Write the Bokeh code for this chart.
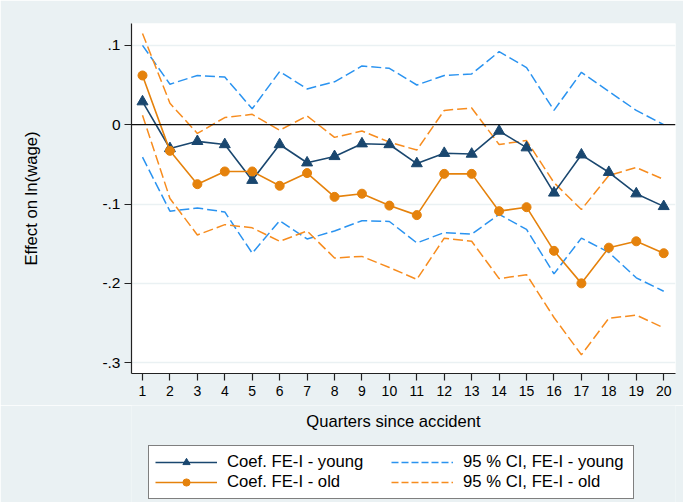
import numpy as np
from bokeh.plotting import figure
from bokeh.layouts import column
from bokeh.models import (Range1d, FixedTicker, Span, Legend, LegendItem, Label)
from bokeh.embed import file_html
from bokeh.resources import INLINE

quarters = list(range(1, 21))
coef_young = [0.029, -0.030, -0.021, -0.025, -0.070, -0.025, -0.048, -0.040, -0.024, -0.025,
              -0.049, -0.036, -0.037, -0.008, -0.029, -0.086, -0.038, -0.060, -0.087, -0.103]
coef_old = [0.062, -0.033, -0.075, -0.059, -0.059, -0.077, -0.061, -0.091, -0.087, -0.102,
            -0.114, -0.062, -0.062, -0.109, -0.104, -0.159, -0.200, -0.155, -0.147, -0.162]
ci_young_hi = [0.100, 0.051, 0.062, 0.060, 0.020, 0.067, 0.045, 0.054, 0.074, 0.071,
               0.050, 0.062, 0.064, 0.092, 0.072, 0.018, 0.066, 0.042, 0.018, 0.000]
ci_young_lo = [-0.041, -0.109, -0.105, -0.110, -0.162, -0.121, -0.144, -0.134, -0.121, -0.122,
               -0.149, -0.136, -0.138, -0.113, -0.132, -0.188, -0.143, -0.161, -0.193, -0.210]
ci_old_hi = [0.115, 0.027, -0.011, 0.009, 0.013, -0.007, 0.011, -0.016, -0.008, -0.022,
             -0.032, 0.018, 0.021, -0.025, -0.020, -0.073, -0.107, -0.064, -0.054, -0.069]
ci_old_lo = [0.012, -0.093, -0.139, -0.126, -0.130, -0.147, -0.134, -0.168, -0.166, -0.180,
             -0.195, -0.143, -0.147, -0.194, -0.189, -0.243, -0.290, -0.244, -0.240, -0.256]
y_ticks = [-0.3, -0.2, -0.1, 0.0, 0.1]
y_tick_labels = ["-.3", "-.2", "-.1", "0", ".1"]
legend_labels = ["Coef. FE-I - young", "Coef. FE-I - old",
                 "95 % CI, FE-I - young", "95 % CI, FE-I - old"]
x_title = "Quarters since accident"
y_title = "Effect on ln(wage)"

FONT = "Liberation Sans"
BG = "#eaf1f3"
NAVY = "#1a476f"
ORANGE = "#e5820c"
BLUE_CI = "#2a93f0"
ORANGE_CI = "#f78c1e"
DASH = "10 4"

p = figure(width=683, height=405, output_backend="svg", toolbar_location=None,
           x_range=Range1d(0.599, 20.43), y_range=Range1d(-0.3136, 0.1275),
           min_border_left=131, min_border_top=23, min_border_right=8, min_border_bottom=32)
p.border_fill_color = BG
p.background_fill_color = "white"
p.outline_line_color = None

p.xgrid.visible = False
p.ygrid.ticker = FixedTicker(ticks=[-0.3, -0.2, -0.1, 0.1])
p.ygrid.grid_line_color = BG
p.ygrid.grid_line_width = 1.5

p.xaxis.ticker = FixedTicker(ticks=quarters)
p.yaxis.ticker = FixedTicker(ticks=y_ticks)
p.yaxis.major_label_overrides = {t: l for t, l in zip(y_ticks, y_tick_labels)}
p.yaxis.major_label_orientation = "horizontal"
for ax in (p.xaxis, p.yaxis):
    ax.axis_line_color = "#222222"
    ax.axis_line_width = 1.2
    ax.major_tick_line_color = "#222222"
    ax.major_tick_line_width = 1.2
    ax.major_tick_out = 7
    ax.major_tick_in = 0
    ax.minor_tick_line_color = None
    ax.major_label_text_font = FONT
    ax.major_label_text_color = "black"
p.xaxis.major_label_text_font_size = "14px"
p.yaxis.major_label_text_font_size = "15.5px"
p.xaxis.major_label_standoff = 5
p.yaxis.major_label_standoff = 4

p.yaxis.axis_label = y_title
p.yaxis.axis_label_text_font = FONT
p.yaxis.axis_label_text_font_size = "16.7px"
p.yaxis.axis_label_text_font_style = "normal"
p.yaxis.axis_label_text_color = "black"
p.yaxis.axis_label_standoff = 58

p.add_layout(Span(location=0, dimension="width", line_color="#111111", line_width=1.3))

p.line(quarters, ci_young_hi, line_color=BLUE_CI, line_width=1.5, line_dash=DASH)
p.line(quarters, ci_young_lo, line_color=BLUE_CI, line_width=1.5, line_dash=DASH)
p.line(quarters, ci_old_hi, line_color=ORANGE_CI, line_width=1.5, line_dash=DASH)
p.line(quarters, ci_old_lo, line_color=ORANGE_CI, line_width=1.5, line_dash=DASH)

p.line(quarters, coef_young, line_color=NAVY, line_width=1.6)
p.scatter(quarters, coef_young, marker="triangle", size=11, fill_color=NAVY, line_color=NAVY)
p.line(quarters, coef_old, line_color=ORANGE, line_width=1.6)
p.scatter(quarters, coef_old, marker="circle", size=9, fill_color=ORANGE, line_color=ORANGE)

# bottom strip: x-axis title and legend (frame aligned with the main plot frame)
p2 = figure(width=683, height=97, output_backend="svg", toolbar_location=None,
            x_range=Range1d(0, 544), y_range=Range1d(0, 97),
            min_border=0, x_axis_type=None, y_axis_type=None)
p2.border_fill_color = BG
p2.background_fill_color = BG
p2.outline_line_color = None
p2.grid.visible = False

p2.add_layout(Label(x=262, y=81, text=x_title, text_font=FONT, text_font_size="16.6px",
                    text_align="center", text_baseline="middle", text_color="black"))

hx, hy = [-50, -40], [-50, -40]  # off-screen holders for legend glyph styles
l_yl = p2.line(hx, hy, line_color=NAVY, line_width=1.6)
l_ym = p2.scatter(hx, hy, marker="triangle", size=8, fill_color=NAVY, line_color=NAVY)
l_ol = p2.line(hx, hy, line_color=ORANGE, line_width=1.6)
l_om = p2.scatter(hx, hy, marker="circle", size=7, fill_color=ORANGE, line_color=ORANGE)
l_yc = p2.line(hx, hy, line_color=BLUE_CI, line_width=1.5, line_dash="7 3")
l_oc = p2.line(hx, hy, line_color=ORANGE_CI, line_width=1.5, line_dash="7 3")

legend = Legend(items=[
    LegendItem(label=legend_labels[0], renderers=[l_yl, l_ym]),
    LegendItem(label=legend_labels[1], renderers=[l_ol, l_om]),
    LegendItem(label=legend_labels[2], renderers=[l_yc]),
    LegendItem(label=legend_labels[3], renderers=[l_oc]),
], orientation="vertical", nrows=2, location=(17, 3))
legend.label_text_font = FONT
legend.label_text_font_size = "16.7px"
legend.label_text_color = "black"
legend.glyph_width = 62
legend.glyph_height = 18
legend.label_standoff = 10
legend.label_width = 164
legend.label_height = 18
legend.spacing = 0
legend.padding = 6
legend.margin = 0
legend.border_line_color = "black"
legend.border_line_width = 1
legend.background_fill_color = "white"
legend.background_fill_alpha = 1
p2.add_layout(legend, "center")

layout = column(p, p2, spacing=0)
open("out.html", "w").write(file_html(layout, INLINE))
